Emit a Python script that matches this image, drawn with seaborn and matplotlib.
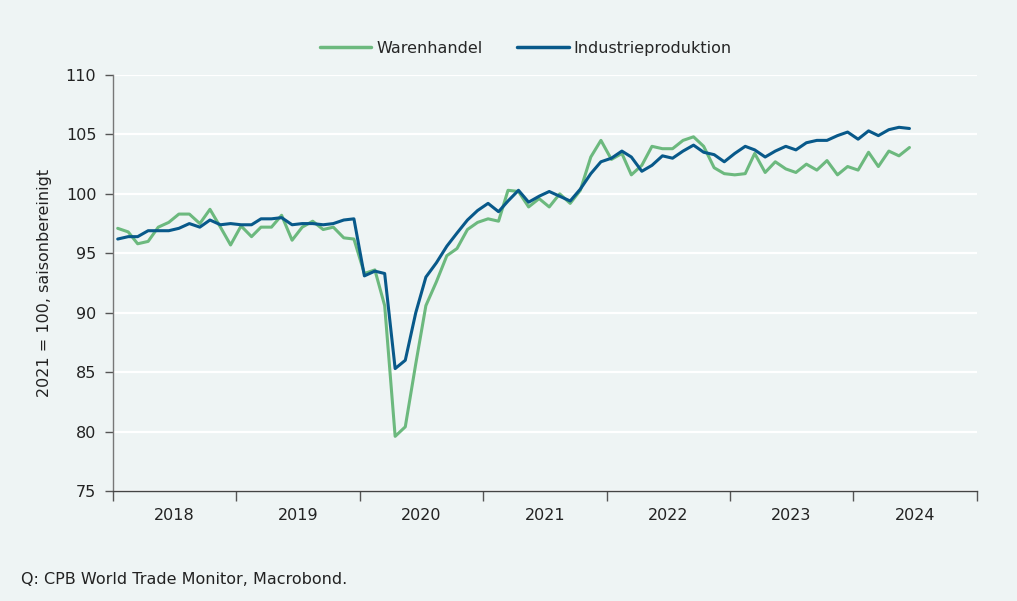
import pandas as pd
import numpy as np
import matplotlib.pyplot as plt
import matplotlib.dates as mdates
import seaborn as sns

# monthly values, Jan 2018 - Jun 2024 (2021 = 100, seasonally adjusted)
warenhandel = [
    97.1, 96.8, 95.8, 96.0, 97.2, 97.6, 98.3, 98.3, 97.5, 98.7, 97.2, 95.7,   # 2018
    97.3, 96.4, 97.2, 97.2, 98.2, 96.1, 97.2, 97.7, 97.0, 97.2, 96.3, 96.2,   # 2019
    93.3, 93.6, 90.6, 79.6, 80.4, 85.7, 90.6, 92.6, 94.8, 95.4, 97.0, 97.6,   # 2020
    97.9, 97.7, 100.3, 100.2, 98.9, 99.6, 98.9, 100.0, 99.2, 100.3, 103.1, 104.5,  # 2021
    102.9, 103.4, 101.6, 102.4, 104.0, 103.8, 103.8, 104.5, 104.8, 104.0, 102.2, 101.7,  # 2022
    101.6, 101.7, 103.4, 101.8, 102.7, 102.1, 101.8, 102.5, 102.0, 102.8, 101.6, 102.3,  # 2023
    102.0, 103.5, 102.3, 103.6, 103.2, 103.9,                                 # 2024
]
industrieproduktion = [
    96.2, 96.4, 96.4, 96.9, 96.9, 96.9, 97.1, 97.5, 97.2, 97.8, 97.4, 97.5,   # 2018
    97.4, 97.4, 97.9, 97.9, 98.0, 97.4, 97.5, 97.5, 97.4, 97.5, 97.8, 97.9,   # 2019
    93.1, 93.5, 93.3, 85.3, 86.0, 90.0, 93.0, 94.2, 95.6, 96.7, 97.8, 98.6,   # 2020
    99.2, 98.5, 99.4, 100.3, 99.3, 99.8, 100.2, 99.8, 99.4, 100.4, 101.7, 102.7,  # 2021
    103.0, 103.6, 103.1, 101.9, 102.4, 103.2, 103.0, 103.6, 104.1, 103.5, 103.3, 102.7,  # 2022
    103.4, 104.0, 103.7, 103.1, 103.6, 104.0, 103.7, 104.3, 104.5, 104.5, 104.9, 105.2,  # 2023
    104.6, 105.3, 104.9, 105.4, 105.6, 105.5,                                 # 2024
]
years = ["2018", "2019", "2020", "2021", "2022", "2023", "2024"]

bg = "#eef4f4"
green = "#6cb97e"
blue = "#08598a"

dates = pd.date_range("2018-01-01", periods=len(warenhandel), freq="MS") + pd.Timedelta(days=14)
df = pd.DataFrame({"Datum": dates,
                   "Warenhandel": warenhandel,
                   "Industrieproduktion": industrieproduktion})
df_long = df.melt(id_vars="Datum", var_name="Serie", value_name="Wert")

sns.set_style("white")
plt.rcParams["font.family"] = ["DejaVu Sans"]

fig = plt.figure(figsize=(10.17, 6.01), dpi=100, facecolor=bg)
ax = fig.add_axes([0.1111, 0.183, 0.8496, 0.6922])
ax.set_facecolor(bg)

sns.lineplot(data=df_long, x="Datum", y="Wert", hue="Serie",
             palette={"Warenhandel": green, "Industrieproduktion": blue},
             linewidth=2.2, ax=ax, legend=False, zorder=3)

# y axis
ax.set_ylim(75, 110)
ax.set_yticks(np.arange(75, 111, 5))
ax.yaxis.grid(True, color="white", linewidth=1.6, zorder=1)
ax.set_ylabel("2021 = 100, saisonbereinigt", fontsize=11.5, color="#222222", labelpad=10)

# x axis: year boundaries as ticks, labels in the middle of the year
ax.set_xlim(pd.Timestamp("2018-01-01"), pd.Timestamp("2025-01-01"))
ax.xaxis.set_major_locator(mdates.YearLocator())
ax.xaxis.set_major_formatter(plt.NullFormatter())
mid = [pd.Timestamp(f"{y}-07-02") for y in years]
ax.set_xticks(mid, minor=True)
ax.set_xticklabels(years, minor=True)
ax.tick_params(axis="x", which="major", bottom=True, length=7, width=1,
               color="#555555", direction="out")
ax.tick_params(axis="x", which="minor", bottom=True, length=0, pad=12,
               labelsize=11.5, labelcolor="#222222")
ax.tick_params(axis="y", left=True, length=6, width=1, color="#555555", direction="out",
               labelsize=11.5, labelcolor="#222222", pad=6)
ax.set_xlabel("")

for s in ["top", "right"]:
    ax.spines[s].set_visible(False)
ax.spines["left"].set_color("#777777")
ax.spines["bottom"].set_color("#444444")
ax.spines["left"].set_linewidth(1)
ax.spines["bottom"].set_linewidth(1)

# legend
handles = [plt.Line2D([], [], color=green, linewidth=2.5),
           plt.Line2D([], [], color=blue, linewidth=2.5)]
fig.legend(handles, ["Warenhandel", "Industrieproduktion"], loc="center",
           bbox_to_anchor=(0.517, 0.92), ncol=2, frameon=False, fontsize=11.5,
           handlelength=3.2, handletextpad=0.3, columnspacing=2.2)

fig.text(0.021, 0.035, "Q: CPB World Trade Monitor, Macrobond.", fontsize=11.5,
         color="#222222", va="center", ha="left")

fig.savefig("out.png", dpi=100, facecolor=bg)
